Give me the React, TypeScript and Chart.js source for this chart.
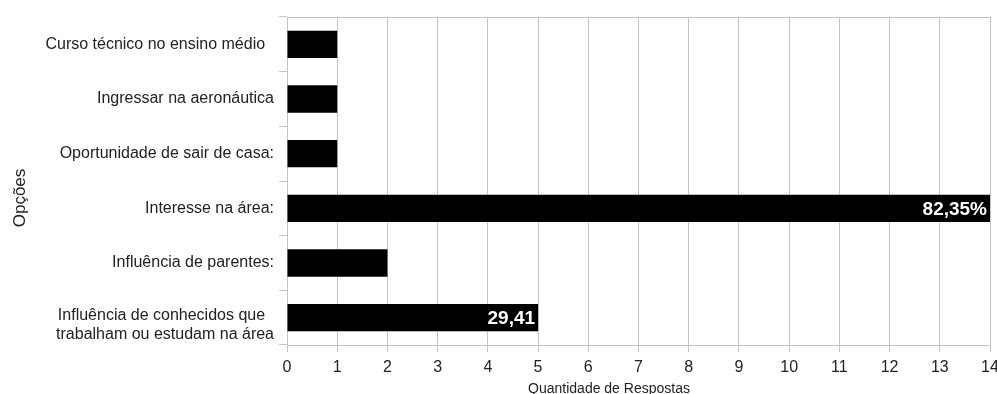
import React, { useEffect, useRef } from "react";
import { Chart, registerables } from "chart.js";

Chart.register(...registerables);

// Answer options (last one is split over two lines)
const options: (string | string[])[] = [
  "Curso técnico no ensino médio  ",
  "Ingressar na aeronáutica",
  "Oportunidade de sair de casa:",
  "Interesse na área:",
  "Influência de parentes:",
  ["Influência de conhecidos que  ", "trabalham ou estudam na área"],
];

// Number of answers per option
const answers: number[] = [1, 1, 1, 14, 2, 5];

// Labels printed inside the bars
const barLabels: string[] = ["", "", "", "82,35%", "", "29,41"];

const xTitle = "Quantidade de Respostas";
const yTitle = "Opções";
const xTicksMax = 14;

const FONT = "'Liberation Sans', Arial, sans-serif";
const GRID = "#c4c4c4";
const TEXT = "#222222";

const Y_TICK_LEN = 8;
const Y_TICK_PAD = 5;

// Draws the top border of the plot area, the two-line option label,
// the axis titles and the labels inside the bars
const barTextPlugin = {
  id: "barText",
  afterDatasetsDraw(chart: any) {
    const { ctx, chartArea } = chart;
    const yScale = chart.scales.y;
    ctx.save();
    ctx.strokeStyle = GRID;
    ctx.lineWidth = 1;
    ctx.beginPath();
    ctx.moveTo(chartArea.left, chartArea.top + 0.5);
    ctx.lineTo(chartArea.right, chartArea.top + 0.5);
    ctx.stroke();

    // multi-line option labels
    ctx.fillStyle = TEXT;
    ctx.font = `16px ${FONT}`;
    ctx.textAlign = "right";
    ctx.textBaseline = "middle";
    const pitch = 19;
    options.forEach((label, i) => {
      if (!Array.isArray(label)) return;
      const cy = yScale.getPixelForTick(i) + 7.5;
      const x = yScale.right - Y_TICK_LEN - Y_TICK_PAD;
      const top = cy - ((label.length - 1) * pitch) / 2;
      label.forEach((line, k) => ctx.fillText(line, x, top + k * pitch));
    });

    const meta = chart.getDatasetMeta(0);
    ctx.fillStyle = "#ffffff";
    ctx.font = `bold 19px ${FONT}`;
    meta.data.forEach((bar: any, i: number) => {
      const label = barLabels[i];
      if (!label) return;
      ctx.fillText(label, bar.x - 3, bar.y + 1);
    });

    // axis titles
    ctx.fillStyle = TEXT;
    ctx.font = `14px ${FONT}`;
    ctx.textAlign = "center";
    ctx.textBaseline = "alphabetic";
    ctx.fillText(xTitle, 609, 393);

    ctx.font = `17px ${FONT}`;
    ctx.textBaseline = "middle";
    ctx.translate(20, 198);
    ctx.rotate(-Math.PI / 2);
    ctx.fillText(yTitle, 0, 0);
    ctx.restore();
  },
};

export default function App() {
  const ref = useRef<HTMLCanvasElement>(null);

  useEffect(() => {
    document.body.style.margin = "0";
    const canvas = ref.current!;
    const chart = new Chart(canvas, {
      type: "bar",
      data: {
        labels: options,
        datasets: [
          {
            data: answers,
            backgroundColor: "#000000",
            borderWidth: 0,
            barPercentage: 0.5,
            categoryPercentage: 1,
          },
        ],
      },
      plugins: [barTextPlugin],
      options: {
        indexAxis: "y",
        animation: false,
        responsive: false,
        maintainAspectRatio: false,
        layout: { padding: { top: 17, right: 7, bottom: 0, left: 0 } },
        plugins: {
          legend: { display: false },
          tooltip: { enabled: false },
        },
        scales: {
          x: {
            min: 0,
            max: xTicksMax,
            ticks: {
              stepSize: 1,
              color: TEXT,
              font: { family: FONT, size: 16 },
              padding: 6,
              maxRotation: 0,
            },
            grid: { color: GRID, tickLength: 7, lineWidth: 1 },
            border: { color: GRID },
            afterFit(scale: any) {
              scale.height = 49;
              scale.paddingLeft = 0;
              scale.paddingRight = 0;
            },
          },
          y: {
            ticks: {
              // two-line labels are drawn by the plugin
              color: (c: any) => (Array.isArray(options[c.index]) ? "rgba(0,0,0,0)" : TEXT),
              font: { family: FONT, size: 16 },
              padding: Y_TICK_PAD,
            },
            grid: {
              color: GRID,
              drawOnChartArea: false,
              tickLength: Y_TICK_LEN,
              offset: true,
            },
            border: { color: GRID },
            afterFit(scale: any) {
              scale.width = 287;
              scale.paddingTop = 0;
              scale.paddingBottom = 0;
            },
          },
        },
      },
    });
    return () => chart.destroy();
  }, []);

  return <canvas ref={ref} width={997} height={394} style={{ display: "block", width: 997, height: 394 }} />;
}
